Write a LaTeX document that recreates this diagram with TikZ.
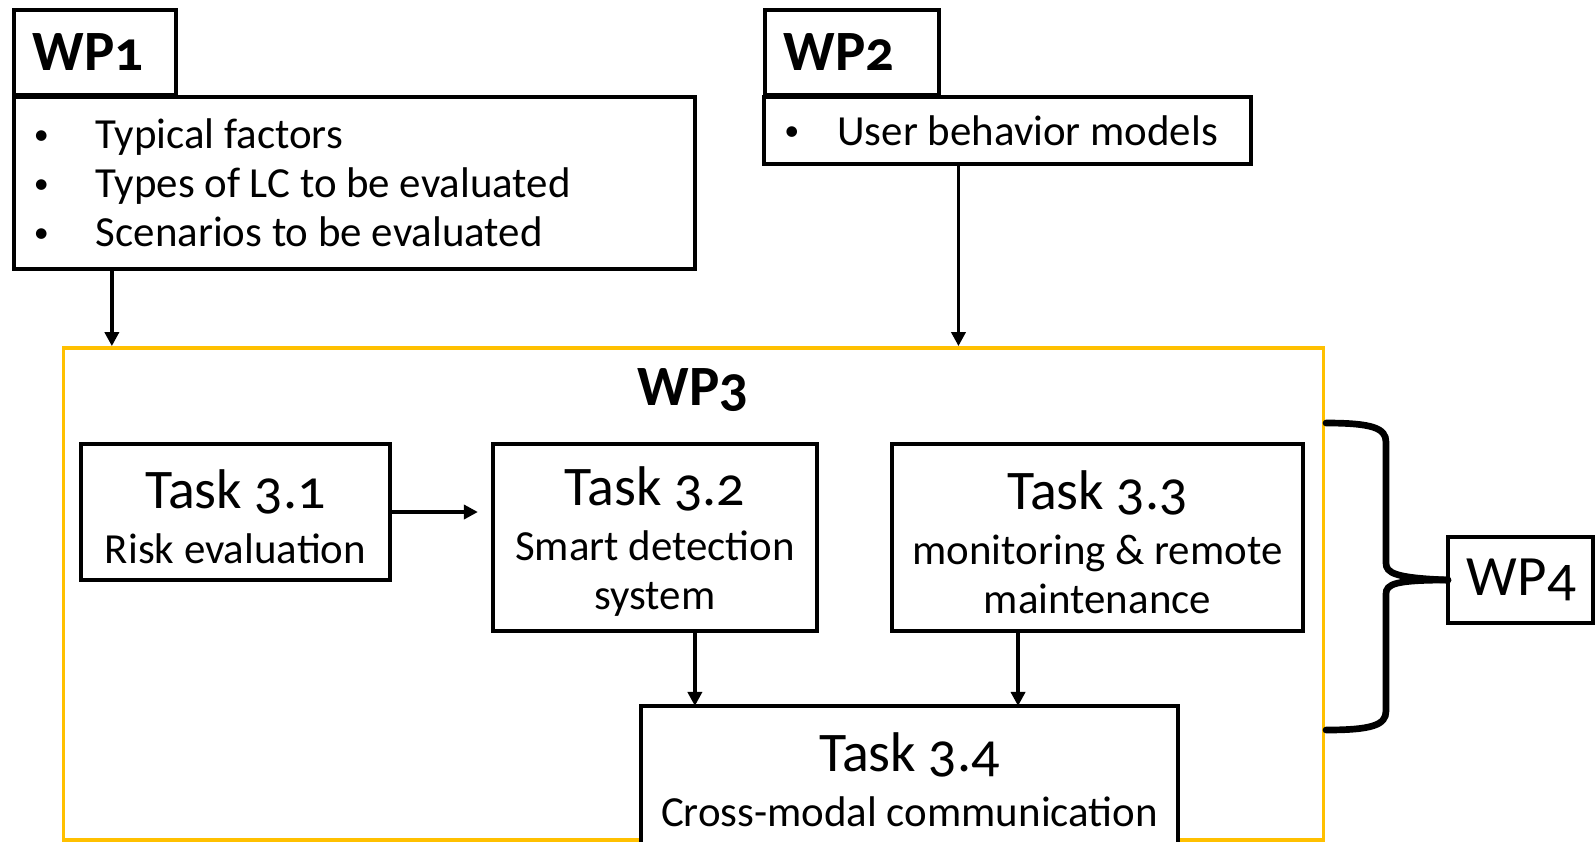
\documentclass[tikz,border=0pt]{standalone}
\usepackage{fontspec}
\setmainfont{Carlito}[Numbers=OldStyle]
\usepackage{tikz}
\usetikzlibrary{arrows.meta,positioning}
\definecolor{wpyellow}{RGB}{255,192,0}
\newcommand{\titlesize}{\fontsize{15.9}{18}\selectfont}
\newcommand{\bodysize}{\fontsize{12.2}{13.9}\selectfont}
\newcommand{\plainspace}{\spaceskip 0pt\relax}
\newcommand{\bul}[1][0.62cm]{\makebox[#1][l]{\raisebox{0.1em}{\scalebox{0.7}{\textbullet}}}}
\newcommand{\tasktitle}[1]{{\titlesize\rule{0pt}{0.85em}#1}}
\tikzset{
  box/.style = {rectangle, draw=black, line width=1.1pt, fill=white, inner sep=0pt, outer sep=0pt},
  wpbox/.style = {box, font=\fontsize{16.2}{18}\selectfont, align=left, inner xsep=0.19cm, minimum height=0.85cm},
  listbox/.style = {box, font=\bodysize, align=left, inner xsep=0.2cm},
  taskbox/.style = {box, font=\bodysize, align=center},
  arr/.style = {line width=1pt, -{Triangle[length=0.14cm,width=0.14cm]}},
  brace/.style = {line width=1.9pt, line cap=round},
}

\begin{document}
\begin{tikzpicture}[x=0.01cm, y=-0.01cm]
\clip (0,0) rectangle (1596,841);
\fill[white] (0,0) rectangle (1596,841);

% WP3 frame
\node[draw=wpyellow, line width=1pt, inner sep=0pt, minimum width=12.59cm, minimum height=4.92cm] (wp3) at (693.5,594) {};
\node[font=\fontsize{16.2}{18}\selectfont\bfseries] (wp3title) at (693,390) {WP3};

% inputs
\node[wpbox, text width=1.24cm, font=\fontsize{16.2}{18}\selectfont\bfseries] (wp1) at (95,52.5) {WP1};
\node[listbox, text width=6.41cm, minimum height=1.72cm] (wp1list) at (354.5,183) {\plainspace\bul Typical factors\\ \bul Types of LC to be evaluated\\ \bul Scenarios to be evaluated};
\node[wpbox, text width=1.36cm, font=\fontsize{16.2}{18}\selectfont\bfseries] (wp2) at (852,52.5) {WP2};
\node[listbox, text width=4.46cm, minimum height=0.67cm] (wp2list) at (1007.5,130.5) {\plainspace\bul[0.53cm]User behavior models};

% tasks
\node[taskbox, minimum width=3.09cm, minimum height=1.36cm] (t31) at (235.5,512) {\tasktitle{Task 3.1}\\[0.06cm] Risk evaluation};
\node[taskbox, minimum width=3.24cm, minimum height=1.87cm] (t32) at (655,537.5) {\tasktitle{Task 3.2}\\[0.06cm] Smart detection\\ system};
\node[taskbox, minimum width=4.11cm, minimum height=1.87cm] (t33) at (1097.5,537.5) {\tasktitle{Task 3.3}\\[0.06cm] monitoring \& remote\\ maintenance};
\node[taskbox, minimum width=5.37cm, minimum height=1.48cm] (t34) at (909.5,780) {{\titlesize Task 3.4}\\[0.06cm] Cross-modal communication};

\node[wpbox, text width=1.07cm, minimum height=0.86cm] (wp4) at (1520.5,580) {WP4};

% arrows
\coordinate (in1) at ([xshift=0.98cm]wp1list.south west);
\coordinate (in2) at ([xshift=1.94cm]wp2list.south west);
\draw[arr] (in1) -- (in1 |- wp3.north);
\draw[arr] (in2) -- (in2 |- wp3.north);
\draw[arr, shorten >=0.15cm] (t31.east) -- (t31.east -| t32.west);
\coordinate (in32) at ([xshift=0.54cm]t34.north west);
\coordinate (in33) at ([xshift=3.77cm]t34.north west);
\draw[arr] (in32 |- t32.south) -- (in32);
\draw[arr] (in33 |- t33.south) -- (in33);

% brace to WP4
\coordinate (bracetop) at (1326,423);
\coordinate (bracebot) at (1326,730);
\draw[brace] (bracetop) .. controls (1372,423) and (1386,428) .. (1386,442) -- (1386,563) .. controls (1386,573) and (1395,578) .. (wp4.west);
\draw[brace] (bracebot) .. controls (1372,730) and (1386,725) .. (1386,711) -- (1386,594) .. controls (1386,584) and (1395,580) .. (wp4.west);
\end{tikzpicture}
\end{document}
